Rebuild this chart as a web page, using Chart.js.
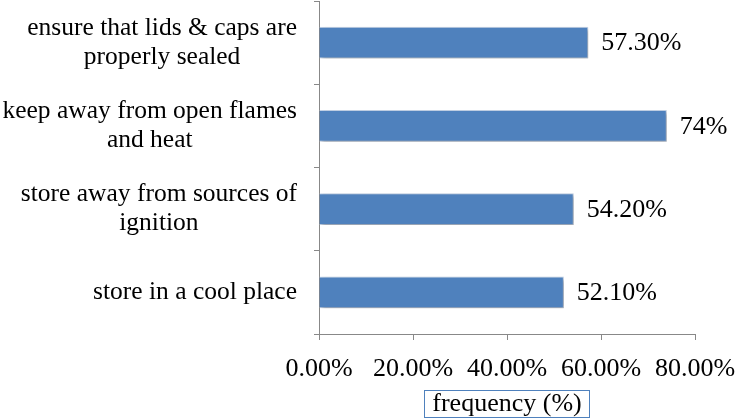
<!DOCTYPE html>
<html>
<head>
<meta charset="utf-8">
<script src="https://cdn.jsdelivr.net/npm/chart.js@4"></script>
<style>
  body { margin: 0; background: #fff; }
  #wrap { width: 735px; height: 418px; }
</style>
</head>
<body>
<div id="wrap"><canvas id="freqChart"></canvas></div>
<script>
const categories = [
    ["ensure that lids & caps are", "properly sealed"],
    ["keep away from open flames", "and heat"],
    ["store away from sources of", "ignition"],
    ["store in a cool place"]
];
const values = [57.3, 74, 54.2, 52.1];
const valueLabels = ["57.30%", "74%", "54.20%", "52.10%"];
const axisTitle = "frequency (%)";

const FONT = "'Liberation Serif', 'Times New Roman', serif";
const FSIZE = 26;

// category labels: each one centred on its own width, block right-aligned
const catLabels = {
    id: "catLabels",
    afterDraw(chart) {
        const y = chart.scales.y;
        const ctx = chart.ctx;
        const right = y.right - 22;
        const lh = 29;
        ctx.save();
        ctx.font = "25.5px " + FONT;
        ctx.fillStyle = "#000";
        ctx.textAlign = "center";
        ctx.textBaseline = "middle";
        categories.forEach((lines, i) => {
            const cy = y.getPixelForValue(i);
            const w = Math.max(...lines.map(l => ctx.measureText(l).width));
            const cx = right - w / 2;
            const top = cy - (lines.length - 1) * lh / 2;
            lines.forEach((l, j) => ctx.fillText(l, cx, top + j * lh));
        });
        ctx.restore();
    }
};

const barShadow = {
    id: "barShadow",
    beforeDatasetDraw(chart) {
        const ctx = chart.ctx;
        ctx.save();
        ctx.shadowColor = "rgba(0,0,0,0.3)";
        ctx.shadowBlur = 4;
        ctx.shadowOffsetX = 2;
        ctx.shadowOffsetY = 2;
    },
    afterDatasetDraw(chart) {
        chart.ctx.restore();
    }
};

const valueText = {
    id: "valueText",
    afterDatasetsDraw(chart) {
        const ctx = chart.ctx;
        const meta = chart.getDatasetMeta(0);
        ctx.save();
        ctx.font = FSIZE + "px " + FONT;
        ctx.fillStyle = "#000";
        ctx.textAlign = "left";
        ctx.textBaseline = "middle";
        meta.data.forEach((bar, i) => {
            ctx.fillText(valueLabels[i], bar.x + 13, bar.y + 1);
        });
        ctx.restore();
    }
};

// box around the x axis title
const titleBox = {
    id: "titleBox",
    afterDraw(chart) {
        const x = chart.scales.x;
        const ctx = chart.ctx;
        ctx.save();
        ctx.font = FSIZE + "px " + FONT;
        const w = ctx.measureText(axisTitle).width + 16;
        const cx = (x.left + x.right) / 2;
        const h = 27;
        const top = chart.height - h - 1;
        ctx.fillStyle = "#fff";
        ctx.fillRect(cx - w / 2, top, w, h);
        ctx.strokeStyle = "#4F81BD";
        ctx.lineWidth = 1;
        ctx.strokeRect(Math.round(cx - w / 2) + 0.5, top + 0.5, Math.round(w), h);
        ctx.fillStyle = "#000";
        ctx.textAlign = "center";
        ctx.textBaseline = "middle";
        ctx.fillText(axisTitle, cx, top + h / 2 + 1);
        ctx.restore();
    }
};

document.addEventListener("DOMContentLoaded", function () {
    let ctx = document.getElementById("freqChart").getContext("2d");
    new Chart(ctx, {
        type: "bar",
        data: {
            labels: categories,
            datasets: [{
                label: "frequency",
                data: values,
                backgroundColor: "#4F81BD",
                borderColor: "#c6d5ea",
                borderWidth: 1,
                barPercentage: 0.38,
                categoryPercentage: 1
            }]
        },
        options: {
            indexAxis: "y",
            responsive: true,
            maintainAspectRatio: false,
            animation: false,
            layout: { padding: { top: 1, right: 0, bottom: 0, left: 0 } },
            plugins: {
                legend: { display: false },
                tooltip: { enabled: false }
            },
            scales: {
                x: {
                    min: 0,
                    max: 80,
                    afterFit: s => {
                        s.height = 84;
                        s.paddingLeft = 0;
                        s.paddingRight = 40;
                    },
                    ticks: {
                        stepSize: 20,
                        font: { family: FONT, size: FSIZE },
                        color: "#000",
                        padding: 14,
                        maxRotation: 0,
                        autoSkip: false,
                        callback: v => v.toFixed(2) + "%"
                    },
                    grid: { drawOnChartArea: false, tickLength: 6, color: "#888" },
                    border: { color: "#888" }
                },
                y: {
                    offset: true,
                    afterFit: s => { s.width = 319; },
                    ticks: { display: false },
                    grid: { drawOnChartArea: false, offset: true, tickLength: 5, color: "#888" },
                    border: { color: "#888" }
                }
            }
        },
        plugins: [catLabels, barShadow, valueText, titleBox]
    });
});
</script>
</body>
</html>
